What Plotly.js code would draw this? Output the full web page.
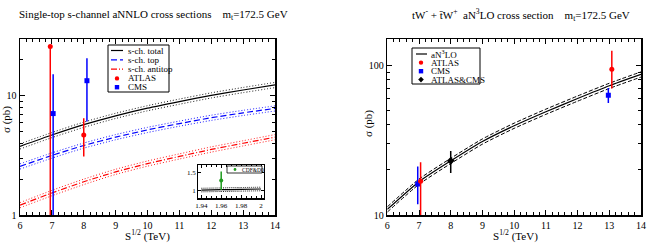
<!DOCTYPE html>
<html>
<head>
<meta charset="utf-8">
<script src="https://cdn.plot.ly/plotly-3.0.1.min.js"></script>
<style>
  html, body { margin: 0; padding: 0; background: #fff; }
  #chart { width: 650px; height: 248px; }
</style>
</head>
<body>
<div id="chart"></div>
<script>
// ---- s-channel single-top (left panel) ----
const energies = [6, 7, 8, 9, 10, 11, 12, 13, 14];
const sTotal      = [3.77, 4.69, 5.73, 6.80, 7.88, 8.95, 10.10, 11.20, 12.35];
const sTotalUp    = [3.96, 4.92, 6.02, 7.14, 8.27, 9.40, 10.60, 11.76, 12.97];
const sTotalLow   = [3.58, 4.46, 5.44, 6.46, 7.49, 8.50, 9.60, 10.64, 11.73];
const sTop        = [2.56, 3.16, 3.83, 4.50, 5.18, 5.85, 6.55, 7.20, 7.85];
const sTopUp      = [2.69, 3.32, 4.02, 4.73, 5.44, 6.14, 6.88, 7.56, 8.24];
const sTopLow     = [2.43, 3.00, 3.64, 4.28, 4.92, 5.56, 6.22, 6.84, 7.46];
const sAntitop    = [1.21, 1.53, 1.90, 2.30, 2.70, 3.10, 3.55, 4.00, 4.50];
const sAntitopUp  = [1.27, 1.61, 2.00, 2.42, 2.84, 3.26, 3.73, 4.20, 4.73];
const sAntitopLow = [1.15, 1.45, 1.80, 2.19, 2.57, 2.95, 3.37, 3.80, 4.28];

const sAtlasX = [6.95, 8.0];
const sAtlasY = [26.0, 4.7];
const sAtlasPlus = [0, 1.8];
const sAtlasMinus = [25.5, 1.6];
const sCmsX = [7.04, 8.1];
const sCmsY = [7.1, 13.4];
const sCmsPlus = [8.1, 7.3];
const sCmsMinus = [6.7, 7.3];

// Tevatron inset
const tevE = [1.94, 1.96, 1.98, 2.0];
const tevTheory = [1.02, 1.03, 1.04, 1.05];
const tevTheoryUp = [1.07, 1.08, 1.09, 1.10];
const tevTheoryLow = [0.97, 0.98, 0.99, 1.00];
const tevDataX = [1.96];
const tevDataY = [1.29];
const tevDataPlus = [0.25];
const tevDataMinus = [0.27];

// ---- tW production (right panel) ----
const twTheory    = [10.9, 16.7, 23.0, 31.0, 39.5, 49.0, 60.0, 73.0, 87.0];
const twTheoryUp  = [11.34, 17.37, 23.92, 32.24, 41.08, 50.96, 62.40, 75.92, 90.48];
const twTheoryLow = [10.46, 16.03, 22.08, 29.76, 37.92, 47.04, 57.60, 70.08, 83.52];

const twAtlasX = [7.05, 13.08];
const twAtlasY = [16.8, 94.0];
const twAtlasPlus = [5.7, 31.0];
const twAtlasMinus = [7.0, 24.0];
const twCmsX = [6.96, 12.97];
const twCmsY = [16.1, 63.1];
const twCmsPlus = [5.0, 7.5];
const twCmsMinus = [4.3, 7.0];
const twCombX = [8.0];
const twCombY = [23.0];
const twCombPlus = [3.8];
const twCombMinus = [3.9];

const leftLegend = ['s-ch. total', 's-ch. top', 's-ch. antitop', 'ATLAS', 'CMS'];
const rightLegend = ['aN<sup>3</sup>LO', 'ATLAS', 'CMS', 'ATLAS&amp;CMS'];

const SERIF = 'Liberation Serif';
const RED = '#ff0000', BLUE = '#0000ff', BLACK = '#000000', GREEN = '#1e9a1e';
const W = 650, H = 248;
const px = v => v / W;
const py = v => 1 - v / H;

function line(x, y, xa, ya, color, dash, width) {
  return { x, y, xaxis: xa, yaxis: ya, type: 'scatter', mode: 'lines',
    line: { color, dash, width: width || 1, shape: 'spline', smoothing: 0.6 },
    hoverinfo: 'skip', showlegend: false };
}
function points(x, y, plus, minus, xa, ya, color, symbol, size) {
  return { x, y, xaxis: xa, yaxis: ya, type: 'scatter', mode: 'markers',
    marker: { color, symbol, size: size || 5 },
    error_y: { type: 'data', symmetric: false, array: plus, arrayminus: minus,
      color, thickness: 1.5, width: 0 },
    showlegend: false };
}

const traces = [
  line(energies, sTotalUp, 'x', 'y', BLACK, '1px,2px', 0.9),
  line(energies, sTotalLow, 'x', 'y', BLACK, '1px,2px', 0.9),
  line(energies, sTotal, 'x', 'y', BLACK, 'solid', 1.2),
  line(energies, sTopUp, 'x', 'y', BLUE, '1px,2px', 0.9),
  line(energies, sTopLow, 'x', 'y', BLUE, '1px,2px', 0.9),
  line(energies, sTop, 'x', 'y', BLUE, '6px,3px', 1.2),
  line(energies, sAntitopUp, 'x', 'y', RED, '1px,2px', 0.9),
  line(energies, sAntitopLow, 'x', 'y', RED, '1px,2px', 0.9),
  line(energies, sAntitop, 'x', 'y', RED, '6px,2px,1px,2px', 1.2),
  points(sAtlasX, sAtlasY, sAtlasPlus, sAtlasMinus, 'x', 'y', RED, 'circle'),
  points(sCmsX, sCmsY, sCmsPlus, sCmsMinus, 'x', 'y', BLUE, 'square'),

  line(tevE, tevTheoryUp, 'x3', 'y3', BLACK, '1px,1px', 0.9),
  line(tevE, tevTheoryLow, 'x3', 'y3', BLACK, '1px,1px', 0.9),
  line(tevE, tevTheory, 'x3', 'y3', BLACK, 'solid', 1.2),
  points(tevDataX, tevDataY, tevDataPlus, tevDataMinus, 'x3', 'y3', GREEN, 'circle', 4),

  line(energies, twTheoryUp, 'x2', 'y2', BLACK, '4px,2px'),
  line(energies, twTheoryLow, 'x2', 'y2', BLACK, '4px,2px'),
  line(energies, twTheory, 'x2', 'y2', BLACK, 'solid', 1.2),
  points(twCmsX, twCmsY, twCmsPlus, twCmsMinus, 'x2', 'y2', BLUE, 'square'),
  points(twAtlasX, twAtlasY, twAtlasPlus, twAtlasMinus, 'x2', 'y2', RED, 'circle'),
  points(twCombX, twCombY, twCombPlus, twCombMinus, 'x2', 'y2', BLACK, 'diamond', 6)
];

const axBase = {
  showline: true, linecolor: BLACK, linewidth: 1.5, mirror: 'allticks',
  ticks: 'inside', ticklen: 5, tickwidth: 1, tickcolor: BLACK,
  showgrid: false, zeroline: false,
  tickfont: { family: SERIF, size: 10, color: BLACK }
};
const xMinor = { ticks: 'inside', ticklen: 3, dtick: 0.2, tickcolor: BLACK, tickwidth: 1 };

const layout = {
  width: W, height: H,
  margin: { l: 0, r: 0, t: 0, b: 0 },
  paper_bgcolor: '#fff', plot_bgcolor: '#fff',
  showlegend: false,
  font: { family: SERIF, color: BLACK },
  xaxis: Object.assign({}, axBase, { domain: [px(20), px(275)], range: [6, 14],
    tick0: 6, dtick: 1, minor: xMinor, anchor: 'y' }),
  yaxis: Object.assign({}, axBase, { domain: [py(215), py(39)], type: 'log',
    range: [0, Math.log10(30)], tickvals: [1, 10], ticktext: ['1', '10'],
    minor: { ticks: 'inside', ticklen: 3, tickcolor: BLACK,
      tickvals: [2, 3, 4, 5, 6, 7, 8, 9, 20] }, anchor: 'x' }),
  xaxis2: Object.assign({}, axBase, { domain: [px(387.3), px(641)], range: [6, 14],
    tick0: 6, dtick: 1, minor: xMinor, anchor: 'y2' }),
  yaxis2: Object.assign({}, axBase, { domain: [py(215), py(39)], type: 'log',
    range: [1, Math.log10(150)], tickvals: [10, 100], ticktext: ['10', '100'],
    minor: { ticks: 'inside', ticklen: 3, tickcolor: BLACK,
      tickvals: [20, 30, 40, 50, 60, 70, 80, 90] }, anchor: 'x2' }),
  xaxis3: Object.assign({}, axBase, { domain: [px(198.3), px(264)], range: [1.937, 2.003],
    tickmode: 'linear', tick0: 1.94, dtick: 0.02, ticklabeloverflow: 'allow',
    linewidth: 1.2, ticklen: 3,
    minor: { ticks: 'inside', ticklen: 2, dtick: 0.005, tickcolor: BLACK },
    tickfont: { family: SERIF, size: 7, color: BLACK }, anchor: 'y3' }),
  yaxis3: Object.assign({}, axBase, { domain: [py(198.3), py(165)], range: [0.79, 1.72],
    tickvals: [1, 1.5], ticktext: ['1', '1.5'], linewidth: 1.2, ticklen: 3,
    tickfont: { family: SERIF, size: 7, color: BLACK }, anchor: 'x3' }),
  shapes: [],
  annotations: []
};

const T = (text, x, y, opts) => Object.assign({ text, x: px(x), y: py(y), xref: 'paper', yref: 'paper',
  showarrow: false, xanchor: 'left', yanchor: 'middle',
  font: { family: SERIF, size: 11, color: BLACK } }, opts || {});

layout.annotations.push(
  T('Single-top s-channel aNNLO cross sections&nbsp;&nbsp;&nbsp;&nbsp;m<sub>t</sub>=172.5 GeV', 17, 15),
  T('tW<sup>-</sup> + t\u0304W<sup>+</sup>&nbsp;&nbsp;aN<sup>3</sup>LO cross section&nbsp;&nbsp;&nbsp;&nbsp;m<sub>t</sub>=172.5 GeV', 410, 15),
  T('\u03c3 (pb)', 6, 120, { textangle: -90, xanchor: 'center' }),
  T('\u03c3 (pb)', 368, 124, { textangle: -90, xanchor: 'center' }),
  T('S<sup>1/2</sup> (TeV)', 147.5, 235, { xanchor: 'center' }),
  T('S<sup>1/2</sup> (TeV)', 515, 235, { xanchor: 'center' })
);

// legend helpers (paper coordinates from pixel positions)
function box(x0, y0, x1, y1, lw) {
  return { type: 'rect', xref: 'paper', yref: 'paper', x0: px(x0), x1: px(x1),
    y0: py(y1), y1: py(y0), line: { color: BLACK, width: lw || 1 }, fillcolor: '#fff' };
}
function seg(x0, x1, y, color, dash) {
  return { type: 'line', xref: 'paper', yref: 'paper', x0: px(x0), x1: px(x1),
    y0: py(y), y1: py(y), line: { color, width: 1.2, dash } };
}
function dot(cx, cy, r, color) {
  return { type: 'circle', xref: 'paper', yref: 'paper', x0: px(cx - r), x1: px(cx + r),
    y0: py(cy + r), y1: py(cy - r), fillcolor: color, line: { color, width: 0 } };
}
function sq(cx, cy, r, color) {
  return { type: 'rect', xref: 'paper', yref: 'paper', x0: px(cx - r), x1: px(cx + r),
    y0: py(cy + r), y1: py(cy - r), fillcolor: color, line: { color, width: 0 } };
}
function dia(cx, cy, r, color) {
  const p = `M${px(cx)},${py(cy - r)} L${px(cx + r)},${py(cy)} L${px(cx)},${py(cy + r)} L${px(cx - r)},${py(cy)} Z`;
  return { type: 'path', xref: 'paper', yref: 'paper', path: p, fillcolor: color, line: { color, width: 0 } };
}

// left legend
const lRows = [50.5, 59.8, 69.1, 78.4, 87.2];
layout.shapes.push(box(108, 45, 169, 92),
  seg(111, 123, lRows[0], BLACK, 'solid'),
  seg(111, 123, lRows[1], BLUE, '6px,3px'),
  seg(111, 123, lRows[2], RED, '6px,2px,1px,2px'),
  dot(117, lRows[3], 2.2, RED),
  sq(117, lRows[4], 2.2, BLUE));
leftLegend.forEach((s, i) => layout.annotations.push(T(s, 126, lRows[i], { font: { family: SERIF, size: 9, color: BLACK } })));

// right legend
const rRows = [54, 62.6, 71.2, 79.6];
layout.shapes.push(box(412, 48, 480, 84),
  seg(416, 427, rRows[0], BLACK, 'solid'),
  dot(421, rRows[1], 2.2, RED),
  sq(421, rRows[2], 2.2, BLUE),
  dia(421, rRows[3], 2.8, BLACK));
rightLegend.forEach((s, i) => layout.annotations.push(T(s, 429, rRows[i], { font: { family: SERIF, size: 9, color: BLACK } })));

// inset legend
layout.shapes.push(box(227, 166, 262, 173, 0.8), dot(235, 169.5, 1.4, GREEN));
layout.annotations.push(T('CDF&amp;D0', 240, 169.5, { font: { family: SERIF, size: 5.5, color: BLACK } }));

Plotly.newPlot('chart', traces, layout, { staticPlot: true, displayModeBar: false });
</script>
</body>
</html>
